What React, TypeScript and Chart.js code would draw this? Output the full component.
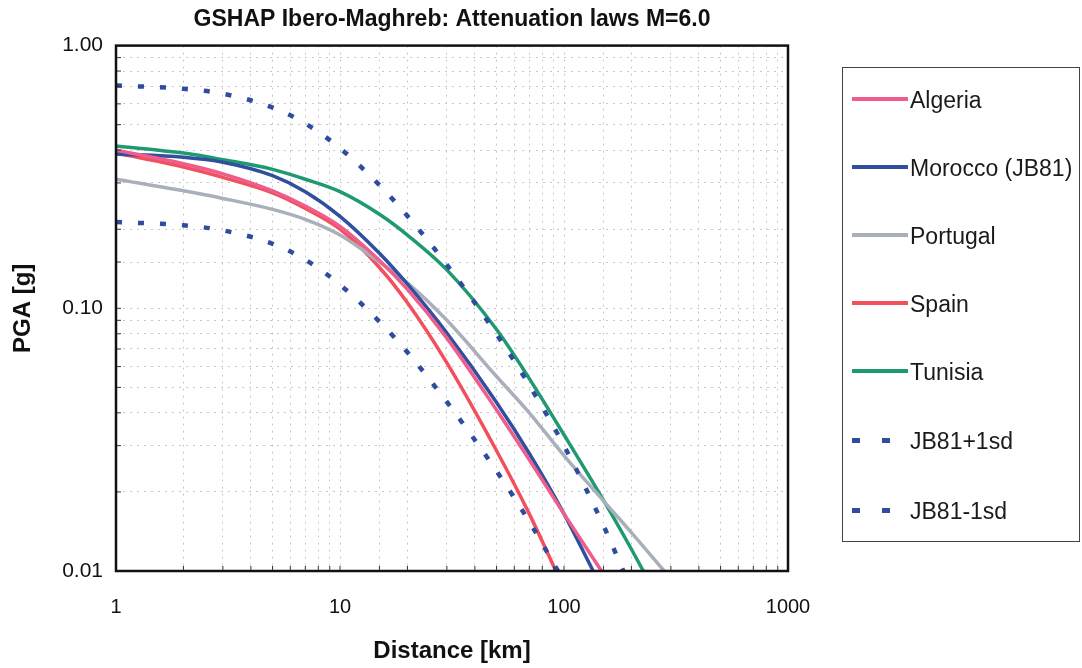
import React, { useEffect, useRef } from "react";
import { Chart, registerables } from "chart.js";

Chart.register(...registerables);

// Distances [km] at which the curves were read
const distances = [1, 2, 3, 5, 7, 10, 15, 20, 30, 50, 70, 100, 150, 200];

// PGA [g] (null = curve already below 0.01 g)
const algeria = [0.4, 0.355, 0.325, 0.28, 0.245, 0.205, 0.152, 0.118, 0.077, 0.041, 0.0265, 0.0165, null, null];
const morocco = [0.387, 0.376, 0.36, 0.32, 0.278, 0.224, 0.162, 0.1235, 0.0805, 0.0438, 0.028, 0.0165, null, null];
const portugal = [0.31, 0.28, 0.262, 0.238, 0.218, 0.19, 0.15, 0.125, 0.09, 0.055, 0.04, 0.0275, 0.0185, 0.014];
const spain = [0.39, 0.345, 0.315, 0.275, 0.24, 0.2, 0.143, 0.105, 0.062, 0.0287, 0.0165, null, null, null];
const tunisia = [0.415, 0.39, 0.368, 0.338, 0.31, 0.278, 0.228, 0.19, 0.14, 0.083, 0.054, 0.033, 0.0186, 0.0121];
const jb81Plus = [0.705, 0.685, 0.656, 0.581, 0.505, 0.407, 0.2945, 0.2246, 0.1464, 0.0797, 0.0509, 0.03, 0.0149, null];
const jb81Minus = [0.213, 0.207, 0.198, 0.176, 0.153, 0.123, 0.089, 0.068, 0.044, 0.024, 0.0154, null, null, null];

// Distance [km] where each curve reaches the 0.01 g floor
const endDistances = [147, 135, 280, 92, 226, 184, 94];

const seriesNames = ["Algeria", "Morocco (JB81)", "Portugal", "Spain", "Tunisia", "JB81+1sd", "JB81-1sd"];
const seriesValues = [algeria, morocco, portugal, spain, tunisia, jb81Plus, jb81Minus];
const seriesColors = ["#ee5d8c", "#2f4f9f", "#aab0bb", "#f2505c", "#1f9a70", "#2f4c9e", "#2f4c9e"];
const seriesDashed = [false, false, false, false, false, true, true];

const xTickLabels = ["1", "10", "100", "1000"];
const yTickLabels = ["0.01", "0.10", "1.00"];

const titleText = "GSHAP Ibero-Maghreb: Attenuation laws M=6.0";
const xTitle = "Distance [km]";
const yTitle = "PGA [g]";

const FONT = "'Liberation Sans', Arial, Helvetica, sans-serif";
const legendY = [99, 167, 235, 303, 371, 440, 510];

const framePlugin = {
  id: "frame",
  afterDatasetsDraw(chart: any) {
    const { ctx, chartArea } = chart;
    const xs = chart.scales.x;
    const ys = chart.scales.y;
    ctx.save();
    ctx.strokeStyle = "#333";
    ctx.lineWidth = 1;
    ctx.beginPath();
    xs.ticks.forEach((t: any) => {
      const px = xs.getPixelForValue(t.value);
      ctx.moveTo(px, chartArea.bottom);
      ctx.lineTo(px, chartArea.bottom - 5);
    });
    ys.ticks.forEach((t: any) => {
      const py = ys.getPixelForValue(t.value);
      ctx.moveTo(chartArea.left, py);
      ctx.lineTo(chartArea.left + 5, py);
    });
    ctx.stroke();
    ctx.strokeStyle = "#111";
    ctx.lineWidth = 2.5;
    ctx.strokeRect(chartArea.left, chartArea.top, chartArea.right - chartArea.left, chartArea.bottom - chartArea.top);
    ctx.restore();
  },
};

function buildPoints(vals: (number | null)[], end: number) {
  const pts: { x: number; y: number }[] = [];
  distances.forEach((d, i) => {
    const v = vals[i];
    if (v != null && d < end) pts.push({ x: d, y: v });
  });
  pts.push({ x: end, y: 0.01 });
  return pts;
}

export default function App() {
  const ref = useRef<HTMLCanvasElement | null>(null);

  useEffect(() => {
    if (!ref.current) return;
    const datasets = seriesNames.map((name, i) => ({
      label: name,
      data: buildPoints(seriesValues[i], endDistances[i]),
      borderColor: seriesColors[i],
      backgroundColor: seriesColors[i],
      borderWidth: seriesDashed[i] ? 4.5 : 3.5,
      borderDash: seriesDashed[i] ? [6, 16] : [],
      pointRadius: 0,
      cubicInterpolationMode: "monotone" as const,
      fill: false,
      order: seriesDashed[i] ? 0 : 1,
    }));

    const chart = new Chart(ref.current, {
      type: "line",
      data: { datasets },
      plugins: [framePlugin],
      options: {
        animation: false,
        responsive: false,
        devicePixelRatio: 1,
        layout: { padding: { left: 0, right: 294, top: 0, bottom: 0 } },
        plugins: {
          legend: { display: false },
          tooltip: { enabled: false },
          title: {
            display: true,
            text: titleText,
            fullSize: false,
            color: "#111",
            font: { family: FONT, size: 23, weight: "bold" },
            padding: { top: 6, bottom: 12 },
          },
        },
        scales: {
          x: {
            type: "logarithmic",
            min: 1,
            max: 1000,
            afterFit: (s: any) => {
              s.height = 97;
            },
            grid: { color: "#c8c8c8", lineWidth: 1, drawTicks: false },
            border: { display: false, dash: [2, 5] },
            ticks: {
              autoSkip: false,
              maxRotation: 0,
              padding: 24,
              color: "#111",
              font: { family: FONT, size: 20 },
              callback: (v: any) => {
                const l = Math.log10(Number(v));
                return Math.abs(l - Math.round(l)) < 1e-6 ? xTickLabels[Math.round(l)] : "";
              },
            },
            title: {
              display: true,
              text: xTitle,
              color: "#111",
              font: { family: FONT, size: 24, weight: "bold" },
              padding: { top: 0, bottom: 2 },
            },
          },
          y: {
            type: "logarithmic",
            min: 0.01,
            max: 1,
            afterFit: (s: any) => {
              s.width = 116;
            },
            grid: { color: "#c8c8c8", lineWidth: 1, drawTicks: false },
            border: { display: false, dash: [2, 5] },
            ticks: {
              autoSkip: false,
              padding: 13,
              color: "#111",
              font: { family: FONT, size: 21 },
              callback: (v: any) => {
                const l = Math.log10(Number(v));
                return Math.abs(l - Math.round(l)) < 1e-6 ? yTickLabels[Math.round(l) + 2] : "";
              },
            },
            title: {
              display: true,
              text: yTitle,
              color: "#111",
              font: { family: FONT, size: 24, weight: "bold" },
              padding: { top: 9, bottom: 0 },
            },
          },
        },
      },
    });
    return () => chart.destroy();
  }, []);

  return (
    <div style={{ position: "absolute", left: 0, top: 0, width: 1082, height: 668, background: "#fff" }}>
      <canvas ref={ref} width={1082} height={668} style={{ position: "absolute", left: 0, top: 0 }} />
      <div
        style={{
          position: "absolute",
          left: 842,
          top: 67,
          width: 238,
          height: 475,
          border: "1px solid #444",
          boxSizing: "border-box",
        }}
      />
      {seriesNames.map((name, i) => (
        <div key={name}>
          {seriesDashed[i] ? (
            <>
              <div style={{ position: "absolute", left: 852, top: legendY[i] - 2.5, width: 8, height: 5, background: seriesColors[i] }} />
              <div style={{ position: "absolute", left: 882, top: legendY[i] - 2.5, width: 8, height: 5, background: seriesColors[i] }} />
            </>
          ) : (
            <div style={{ position: "absolute", left: 852, top: legendY[i] - 2, width: 56, height: 4, background: seriesColors[i] }} />
          )}
          <div
            style={{
              position: "absolute",
              left: 910,
              top: legendY[i] - 13,
              height: 28,
              lineHeight: "28px",
              fontFamily: FONT,
              fontSize: 23,
              color: "#1a1a1a",
              whiteSpace: "nowrap",
            }}
          >
            {name}
          </div>
        </div>
      ))}
    </div>
  );
}
